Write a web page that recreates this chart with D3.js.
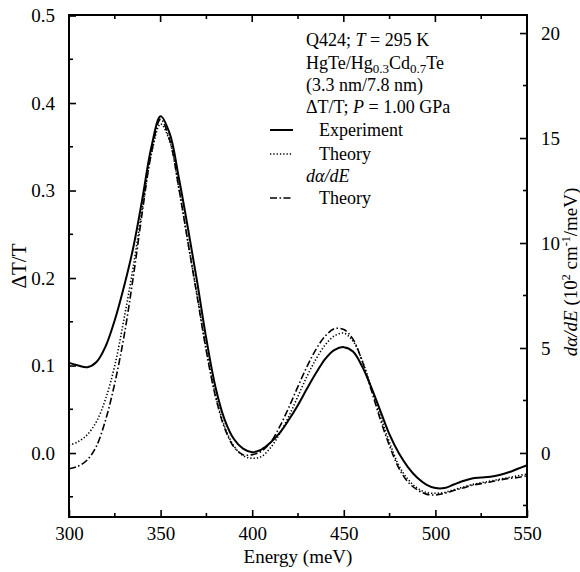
<!DOCTYPE html>
<html>
<head>
<meta charset="utf-8">
<script src="https://cdn.jsdelivr.net/npm/d3@7"></script>
<style>
body { margin: 0; background: #fff; }
text { font-family: "Liberation Serif", serif; fill: #000; }
</style>
</head>
<body>
<div id="chart"></div>
<script>
// data
const energy = d3.range(300, 551, 5);
const experiment = [0.103, 0.100, 0.098, 0.104, 0.122, 0.152, 0.190, 0.234, 0.290, 0.350,
  0.385, 0.365, 0.314, 0.256, 0.195, 0.130, 0.075, 0.038, 0.016, 0.005,
  0.001, 0.004, 0.012, 0.023, 0.038, 0.055, 0.074, 0.092, 0.108, 0.118,
  0.121, 0.116, 0.099, 0.075, 0.048, 0.021, 0.000, -0.016, -0.028, -0.036,
  -0.040, -0.040, -0.036, -0.032, -0.029, -0.028, -0.027, -0.025, -0.022, -0.018, -0.014];
const theory = [0.009, 0.013, 0.021, 0.036, 0.062, 0.100, 0.153, 0.212, 0.280, 0.342,
  0.376, 0.356, 0.302, 0.240, 0.180, 0.118, 0.066, 0.030, 0.008, -0.003,
  -0.006, -0.004, 0.006, 0.022, 0.042, 0.065, 0.088, 0.108, 0.124, 0.134,
  0.137, 0.128, 0.106, 0.075, 0.042, 0.012, -0.014, -0.030, -0.040, -0.045,
  -0.046, -0.045, -0.042, -0.039, -0.036, -0.034, -0.032, -0.030, -0.028, -0.026, -0.024];
// d(alpha)/dE theory, right axis (10^2 cm^-1 / meV)
const dadeTheory = [-0.75, -0.63, -0.33, 0.33, 1.58, 3.33, 5.54, 8.33, 11.46, 14.3,
  15.9, 14.9, 12.6, 10.0, 7.42, 4.83, 2.67, 1.17, 0.29, -0.08,
  -0.08, 0.08, 0.50, 1.25, 2.17, 3.17, 4.13, 4.96, 5.58, 5.92,
  5.88, 5.42, 4.38, 3.0, 1.58, 0.33, -0.71, -1.38, -1.75, -1.96,
  -2.0, -1.92, -1.79, -1.67, -1.54, -1.46, -1.38, -1.29, -1.21, -1.17, -1.08];

const xMajor = [300, 350, 400, 450, 500, 550];
const xMinor = [325, 375, 425, 475, 525];
const leftMajor = [0.0, 0.1, 0.2, 0.3, 0.4, 0.5];
const leftMinor = [-0.05, 0.05, 0.15, 0.25, 0.35, 0.45];
const rightMajor = [0, 5, 10, 15, 20];
const rightMinor = [-2.5, 2.5, 7.5, 12.5, 17.5];

const width = 580, height = 572;
const plot = { left: 69, right: 527, top: 15, bottom: 517 };

const svg = d3.select('#chart').append('svg')
  .attr('width', width)
  .attr('height', height);

const x = d3.scaleLinear().domain([300, 550]).range([plot.left, plot.right]);
const yL = d3.scaleLinear().domain([-0.0731, 0.5006]).range([plot.bottom, plot.top]);
const yR = d3.scaleLinear().domain([-3.05, 20.86]).range([plot.bottom, plot.top]);

// frame
svg.append('rect')
  .attr('x', plot.left).attr('y', plot.top)
  .attr('width', plot.right - plot.left).attr('height', plot.bottom - plot.top)
  .attr('fill', 'none').attr('stroke', '#000').attr('stroke-width', 2);

const fontSize = 19;
const majorLen = 7, minorLen = 4;

// bottom axis (ticks point inward)
const bottomAxis = d3.axisBottom(x).tickValues(xMajor).tickSizeInner(-majorLen).tickSizeOuter(0).tickPadding(10);
const gB = svg.append('g').attr('transform', `translate(0,${plot.bottom})`).call(bottomAxis);
gB.selectAll('.tick line').attr('stroke-width', 1.6);
gB.append('g').selectAll('line').data(xMinor).join('line')
  .attr('x1', d => x(d)).attr('x2', d => x(d)).attr('y1', 0).attr('y2', -minorLen)
  .attr('stroke', '#000').attr('stroke-width', 1.6);

// top ticks
const gT = svg.append('g').attr('transform', `translate(0,${plot.top})`);
gT.selectAll('line.maj').data(xMajor).join('line').attr('class', 'maj')
  .attr('x1', d => x(d)).attr('x2', d => x(d)).attr('y1', 0).attr('y2', majorLen)
  .attr('stroke', '#000').attr('stroke-width', 1.6);
gT.selectAll('line.min').data(xMinor).join('line').attr('class', 'min')
  .attr('x1', d => x(d)).attr('x2', d => x(d)).attr('y1', 0).attr('y2', minorLen)
  .attr('stroke', '#000').attr('stroke-width', 1.6);

// left axis
const leftAxis = d3.axisLeft(yL).tickValues(leftMajor).tickFormat(d3.format('.1f'))
  .tickSizeInner(-majorLen).tickSizeOuter(0).tickPadding(14);
const gL = svg.append('g').attr('transform', `translate(${plot.left},0)`).call(leftAxis);
gL.selectAll('.tick line').attr('stroke-width', 1.6);
gL.append('g').selectAll('line').data(leftMinor).join('line')
  .attr('x1', 0).attr('x2', minorLen).attr('y1', d => yL(d)).attr('y2', d => yL(d))
  .attr('stroke', '#000').attr('stroke-width', 1.6);

// right axis
const rightAxis = d3.axisRight(yR).tickValues(rightMajor)
  .tickSizeInner(-majorLen).tickSizeOuter(0).tickPadding(14);
const gR = svg.append('g').attr('transform', `translate(${plot.right},0)`).call(rightAxis);
gR.selectAll('.tick line').attr('stroke-width', 1.6);
gR.append('g').selectAll('line').data(rightMinor).join('line')
  .attr('x1', 0).attr('x2', -minorLen).attr('y1', d => yR(d)).attr('y2', d => yR(d))
  .attr('stroke', '#000').attr('stroke-width', 1.6);

[gB, gL, gR].forEach(g => {
  g.select('.domain').remove();
  g.selectAll('.tick text').style('font-family', '"Liberation Serif", serif').style('font-size', fontSize + 'px');
});

// axis titles
svg.append('text')
  .attr('x', (plot.left + plot.right) / 2).attr('y', 563)
  .attr('text-anchor', 'middle').style('font-size', '19px')
  .text('Energy (meV)');

svg.append('text')
  .attr('transform', `translate(26,${(plot.top + plot.bottom) / 2}) rotate(-90)`)
  .attr('text-anchor', 'middle').style('font-size', '21px')
  .text('ΔT/T');

const rTitle = svg.append('text')
  .attr('transform', `translate(577,${(plot.top + plot.bottom) / 2 + 6}) rotate(-90)`)
  .attr('text-anchor', 'middle').style('font-size', '19px');
rTitle.append('tspan').style('font-style', 'italic').text('dα/dE');
rTitle.append('tspan').text(' (10');
rTitle.append('tspan').attr('dy', -7).style('font-size', '12px').text('2');
rTitle.append('tspan').attr('dy', 7).text(' cm');
rTitle.append('tspan').attr('dy', -7).style('font-size', '12px').text('-1');
rTitle.append('tspan').attr('dy', 7).text('/meV)');

// curves
const lineL = d3.line().x((d, i) => x(energy[i])).y(d => yL(d)).curve(d3.curveCatmullRom);
const lineR = d3.line().x((d, i) => x(energy[i])).y(d => yR(d)).curve(d3.curveCatmullRom);

const plotArea = svg.append('g');
plotArea.append('path').datum(dadeTheory).attr('d', lineR)
  .attr('fill', 'none').attr('stroke', '#000').attr('stroke-width', 1.6)
  .attr('stroke-dasharray', '7,2.5,1.5,2.5');
plotArea.append('path').datum(theory).attr('d', lineL)
  .attr('fill', 'none').attr('stroke', '#000').attr('stroke-width', 1.6)
  .attr('stroke-dasharray', '1.3,2');
plotArea.append('path').datum(experiment).attr('d', lineL)
  .attr('fill', 'none').attr('stroke', '#000').attr('stroke-width', 2);

// legend
const lg = svg.append('g').style('font-size', '18px');
const lx = 306;
const t1 = lg.append('text').attr('x', lx).attr('y', 46);
t1.append('tspan').text('Q424; ');
t1.append('tspan').style('font-style', 'italic').text('T');
t1.append('tspan').text(' = 295 K');

const t2 = lg.append('text').attr('x', lx).attr('y', 69);
t2.append('tspan').text('HgTe/Hg');
t2.append('tspan').attr('dy', 4).style('font-size', '13px').text('0.3');
t2.append('tspan').attr('dy', -4).text('Cd');
t2.append('tspan').attr('dy', 4).style('font-size', '13px').text('0.7');
t2.append('tspan').attr('dy', -4).text('Te');

lg.append('text').attr('x', lx).attr('y', 91).text('(3.3 nm/7.8 nm)');

const t4 = lg.append('text').attr('x', lx).attr('y', 113);
t4.append('tspan').text('ΔT/T; ');
t4.append('tspan').style('font-style', 'italic').text('P');
t4.append('tspan').text(' = 1.00 GPa');

const legendRows = [
  { label: 'Experiment', y: 136, dash: null, w: 2 },
  { label: 'Theory', y: 160, dash: '1.3,2', w: 1.6 },
  { label: 'Theory', y: 204, dash: '7,2.5,1.5,2.5', w: 1.6 }
];
legendRows.forEach(r => {
  lg.append('line').attr('x1', 270).attr('x2', 293).attr('y1', r.y - 6).attr('y2', r.y - 6)
    .attr('stroke', '#000').attr('stroke-width', r.w)
    .attr('stroke-dasharray', r.dash);
  lg.append('text').attr('x', 319).attr('y', r.y).text(r.label);
});
lg.append('text').attr('x', lx).attr('y', 182).style('font-style', 'italic').text('dα/dE');
</script>
</body>
</html>
